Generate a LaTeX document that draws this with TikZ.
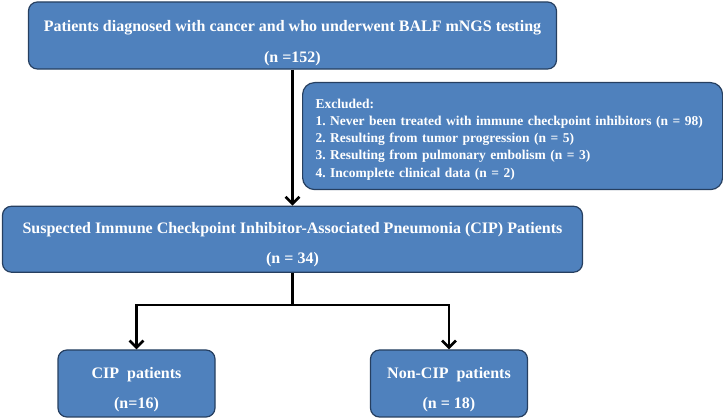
\documentclass[tikz,border=0pt]{standalone}
\usepackage{fontspec}
\setmainfont{Liberation Serif}
\usepackage{xcolor}
\usetikzlibrary{arrows.meta,positioning}
\definecolor{boxblue}{HTML}{4F81BD}
\definecolor{boxedge}{HTML}{263F60}
\newcommand{\lift}[1]{\rule{0pt}{#1}}

\begin{document}
\begin{tikzpicture}[
  x=1pt,y=-1pt,
  box/.style={draw=boxedge,line width=1.2pt,rounded corners=9pt,fill=boxblue,
              text=white,align=center,
              font=\fontsize{16}{19}\selectfont\bfseries\frenchspacing},
  excl/.style={draw=boxedge,line width=1.2pt,rounded corners=12pt,fill=boxblue,
               text=white,align=left,inner xsep=13pt,
               font=\fontsize{13.5}{17.2}\selectfont\bfseries\frenchspacing,
               minimum width=420pt,minimum height=107pt,text width=394pt},
  flow/.style={-{Straight Barb[length=7pt,width=14pt]},line width=2.6pt},
  link/.style={line width=2.6pt}
]
\useasboundingbox (0,0) rectangle (723,419);
\node[box,minimum width=528pt,minimum height=65pt] (screened) at (292.5,35.5)
  {\lift{26pt}Patients diagnosed with cancer and who underwent BALF mNGS testing\\[12pt](n =152)};
\node[excl,anchor=north west] (excluded) at (302,82)
  {\lift{16pt}Excluded:\\
   1. Never been treated with immune checkpoint inhibitors (n = 98)\\
   2. Resulting from tumor progression (n = 5)\\
   3. Resulting from pulmonary embolism (n = 3)\\
   4. Incomplete clinical data (n = 2)};
\node[box,below=136pt of screened,minimum width=580pt,minimum height=66pt] (suspected)
  {\lift{22pt}Suspected Immune Checkpoint Inhibitor-Associated Pneumonia (CIP) Patients\\[11pt](n = 34)};
\coordinate (split) at (292.5,305);
\node[box,minimum width=157pt,minimum height=67pt] (cip) at (136.5,383.5)
  {\lift{23pt}CIP~ patients\\[11pt](n=16)};
\node[box,minimum width=157pt,minimum height=67pt] (noncip) at (449,383.5)
  {\lift{23pt}Non-CIP~ patients\\[11pt](n = 18)};
\draw[flow] (screened.south) -- (suspected.north);
\draw[link] (suspected.south) -- (split);
\draw[flow] (split) -| (cip.north);
\draw[flow] (split) -| (noncip.north);
\end{tikzpicture}
\end{document}
